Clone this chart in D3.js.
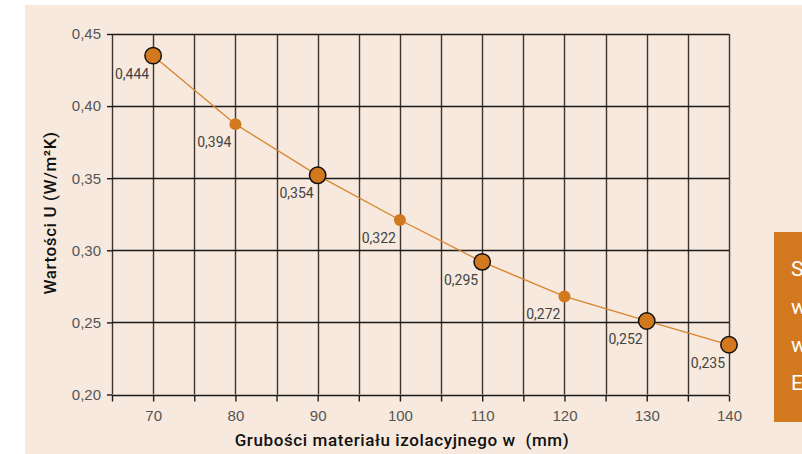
<!DOCTYPE html>
<html>
<head>
  <meta charset="utf-8">
  <title>Wartości U</title>
  <script src="https://d3js.org/d3.v7.min.js"></script>
  <style>
    body { margin: 0; background: #fff; }
    svg { display: block; font-family: Roboto, "Liberation Sans", sans-serif; }
  </style>
</head>
<body>
  <svg width="802" height="454"></svg>
  <script>
    // data
    var thickness = [70, 80, 90, 100, 110, 120, 130, 140];
    var uValues = [0.435, 0.3875, 0.352, 0.321, 0.292, 0.268, 0.251, 0.2345];
    var uLabels = ["0,444", "0,394", "0,354", "0,322", "0,295", "0,272", "0,252", "0,235"];
    var highlighted = [70, 90, 110, 130, 140];
    var xTicks = [70, 80, 90, 100, 110, 120, 130, 140];
    var xGrid = [65, 70, 75, 80, 85, 90, 95, 100, 105, 110, 115, 120, 125, 130, 135, 140];
    var yTicks = [0.20, 0.25, 0.30, 0.35, 0.40, 0.45];
    var boxLines = ["S", "w", "w", "E"];

    var orange = "#d2781f";

    var svg = d3.select("svg");

    svg.append("rect")
        .attr("x", 25).attr("y", 5)
        .attr("width", 777).attr("height", 449)
        .attr("fill", "#f7e9dd");

    var x = d3.scaleLinear().domain([65, 140]).range([112, 729]),
        y = d3.scaleLinear().domain([0.20, 0.45]).range([394.5, 34]);

    var comma = d3.formatLocale({decimal: ",", thousands: " ", grouping: [3], currency: ["", ""]});

    // grid
    var grid = svg.append("g");
    grid.selectAll(".vgrid")
      .data(xGrid)
      .enter().append("line")
        .attr("class", "vgrid")
        .attr("x1", function(d) { return Math.round(x(d)) + 0.5; })
        .attr("x2", function(d) { return Math.round(x(d)) + 0.5; })
        .attr("y1", y(0.45)).attr("y2", y(0.20))
        .attr("stroke", "#3b3632").attr("stroke-width", 1.4);
    grid.selectAll(".hgrid")
      .data(yTicks)
      .enter().append("line")
        .attr("class", "hgrid")
        .attr("x1", x(65)).attr("x2", x(140))
        .attr("y1", function(d) { return Math.round(y(d)) + 0.5; })
        .attr("y2", function(d) { return Math.round(y(d)) + 0.5; })
        .attr("stroke", "#1a1a1a").attr("stroke-width", 1.4);

    // axes
    var xAxis = svg.append("g")
        .attr("transform", "translate(0," + (Math.round(y(0.20)) + 0.5) + ")")
        .call(d3.axisBottom(x).tickValues(xGrid).tickSize(6).tickPadding(9)
          .tickFormat(function(d) { return xTicks.indexOf(d) >= 0 ? d : ""; }));
    xAxis.select(".domain").remove();
    xAxis.selectAll(".tick line").attr("stroke", "#1a1a1a").attr("stroke-width", 1.4);
    xAxis.selectAll(".tick text").attr("fill", "#555").attr("font-size", 15);

    var yAxis = svg.append("g")
        .attr("transform", "translate(" + x(65) + ",0)")
        .call(d3.axisLeft(y).tickValues(yTicks).tickSize(5).tickPadding(6)
          .tickFormat(comma.format(".2f")));
    yAxis.select(".domain").remove();
    yAxis.selectAll(".tick line").attr("stroke", "#1a1a1a").attr("stroke-width", 1.4);
    yAxis.selectAll(".tick text").attr("fill", "#555").attr("font-size", 15);

    // titles
    svg.append("text")
        .attr("transform", "translate(56,213) rotate(-90)")
        .attr("text-anchor", "middle")
        .attr("font-size", 17).attr("font-weight", 500)
        .attr("letter-spacing", 0.6)
        .attr("fill", "#111")
        .text("Wartości U (W/m²K)");

    svg.append("text")
        .attr("x", 402).attr("y", 446)
        .attr("text-anchor", "middle")
        .attr("font-size", 17).attr("font-weight", 500)
        .attr("letter-spacing", 0.6)
        .attr("fill", "#111")
        .style("white-space", "pre")
        .text("Grubości materiału izolacyjnego w  (mm)");

    // series
    var data = thickness.map(function(t, i) {
      return {t: t, u: uValues[i], label: uLabels[i], big: highlighted.indexOf(t) >= 0};
    });

    svg.append("path")
        .datum(data)
        .attr("fill", "none")
        .attr("stroke", "#d9852e")
        .attr("stroke-width", 1.3)
        .attr("d", d3.line()
          .x(function(d) { return x(d.t); })
          .y(function(d) { return y(d.u); }));

    svg.selectAll(".pt")
      .data(data)
      .enter().append("circle")
        .attr("class", "pt")
        .attr("cx", function(d) { return x(d.t); })
        .attr("cy", function(d) { return y(d.u); })
        .attr("r", function(d) { return d.big ? 8.2 : 6; })
        .attr("fill", orange)
        .attr("stroke", function(d) { return d.big ? "#111" : "none"; })
        .attr("stroke-width", 1.5);

    svg.selectAll(".lbl")
      .data(data)
      .enter().append("text")
        .attr("class", "lbl")
        .attr("x", function(d) { return x(d.t) - 4; })
        .attr("y", function(d) { return y(d.u) + 23; })
        .attr("text-anchor", "end")
        .attr("font-size", 14)
        .attr("fill", "#444")
        .text(function(d) { return d.label; });

    // orange side box, cut off by the frame as in the original
    svg.append("rect")
        .attr("x", 774).attr("y", 232)
        .attr("width", 28).attr("height", 190)
        .attr("fill", orange);
    svg.selectAll(".box")
      .data(boxLines)
      .enter().append("text")
        .attr("class", "box")
        .attr("x", 791)
        .attr("y", function(d, i) { return 276 + i * 38; })
        .attr("font-size", 21)
        .attr("fill", "#fff")
        .text(function(d) { return d; });
  </script>
</body>
</html>
